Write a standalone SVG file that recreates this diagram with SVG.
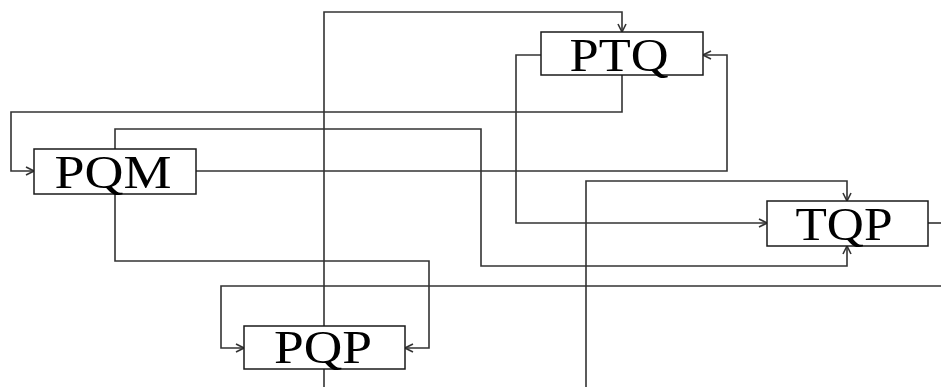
<svg xmlns="http://www.w3.org/2000/svg" width="941" height="387" viewBox="0 0 941 387">
<defs>
<style>
.box{fill:#fff;stroke:#1a1a1a;stroke-width:1.5}
.lbl{font-family:"Liberation Serif","Times New Roman",serif;font-size:47px;fill:#000;text-anchor:middle}
.c{fill:none;stroke:#333;stroke-width:1.6}
</style>
<marker id="ah" viewBox="0 0 10 10" refX="9" refY="5" markerWidth="10" markerHeight="10" markerUnits="userSpaceOnUse" orient="auto">
<path d="M1,1 L9,5 L1,9" fill="none" stroke="#333" stroke-width="1.6"/>
</marker>
</defs>
<g id="connectors">
<polyline class="c" points="324,326 324,12 622,12 622,32" marker-end="url(#ah)"/>
<polyline class="c" points="324,369 324,387"/>
<polyline class="c" points="622,75 622,112 11,112 11,171 34,171" marker-end="url(#ah)"/>
<polyline class="c" points="196,171 727,171 727,55 703,55" marker-end="url(#ah)"/>
<polyline class="c" points="541,55 516,55 516,223 767,223" marker-end="url(#ah)"/>
<polyline class="c" points="115,149 115,129 481,129 481,266 847,266 847,246" marker-end="url(#ah)"/>
<polyline class="c" points="586,387 586,181 847,181 847,201" marker-end="url(#ah)"/>
<polyline class="c" points="928,223 941,223"/>
<polyline class="c" points="941,286 221,286 221,348 244,348" marker-end="url(#ah)"/>
<polyline class="c" points="115,194 115,261 429,261 429,348 405,348" marker-end="url(#ah)"/>
</g>
<g id="node-PTQ">
<rect class="box" x="541" y="32" width="162" height="43"/>
<text class="lbl" x="619" y="71" textLength="99" lengthAdjust="spacingAndGlyphs">PTQ</text>
</g>
<g id="node-PQM">
<rect class="box" x="34" y="149" width="162" height="45"/>
<text class="lbl" x="113" y="188" textLength="117" lengthAdjust="spacingAndGlyphs">PQM</text>
</g>
<g id="node-TQP">
<rect class="box" x="767" y="201" width="161" height="45"/>
<text class="lbl" x="844" y="240" textLength="97" lengthAdjust="spacingAndGlyphs">TQP</text>
</g>
<g id="node-PQP">
<rect class="box" x="244" y="326" width="161" height="43"/>
<text class="lbl" x="323" y="363" textLength="98" lengthAdjust="spacingAndGlyphs">PQP</text>
</g>
</svg>
